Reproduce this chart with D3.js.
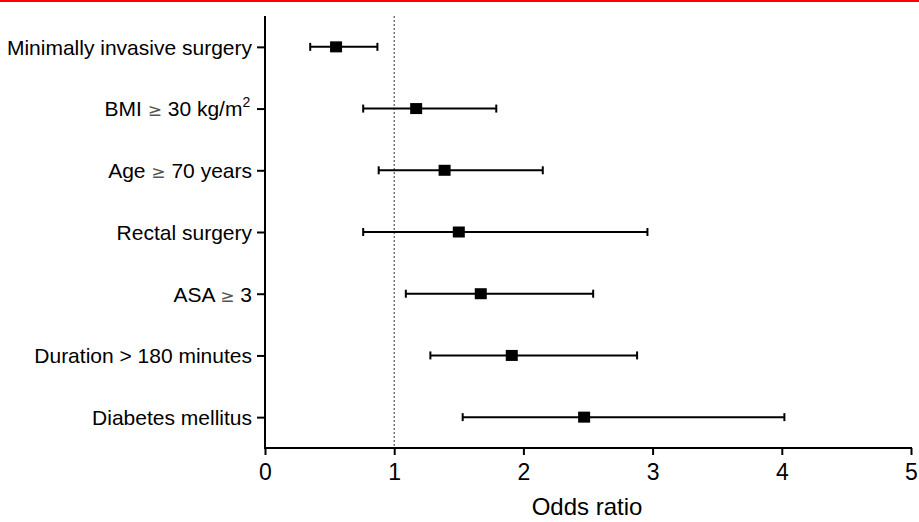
<!DOCTYPE html>
<html>
<head>
<meta charset="utf-8">
<script src="https://cdn.jsdelivr.net/npm/d3@7"></script>
<style>
  body { margin: 0; background: #fff; }
  text { font-family: "Liberation Sans", Arial, sans-serif; fill: #000; }
</style>
</head>
<body>
<script>
// factors (top to bottom)
var factors = ["Minimally invasive surgery", "BMI \u2265 30 kg/m2", "Age \u2265 70 years",
               "Rectal surgery", "ASA \u2265 3", "Duration > 180 minutes", "Diabetes mellitus"];
var oddsRatio = [0.55, 1.17, 1.39, 1.50, 1.67, 1.91, 2.47];
var ciLow     = [0.35, 0.76, 0.88, 0.76, 1.09, 1.28, 1.53];
var ciHigh    = [0.87, 1.79, 2.15, 2.96, 2.54, 2.88, 4.02];
var xTicks    = [0, 1, 2, 3, 4, 5];

var w = 919, h = 522;
var pLeft = 265, pRight = 911, pTop = 16, pBottom = 448;

var svg = d3.select("body").append("svg")
    .attr("width", w)
    .attr("height", h);

// red line across the top
svg.append("rect")
    .attr("x", 0).attr("y", 0)
    .attr("width", w).attr("height", 2)
    .attr("fill", "#ff0000");

var x = d3.scaleLinear().domain([0, 5]).range([pLeft, pRight]);
var y = d3.scalePoint().domain(factors).range([pTop, pBottom]).padding(0.5);

// reference line at OR = 1
svg.append("line")
    .attr("x1", x(1)).attr("x2", x(1))
    .attr("y1", pTop).attr("y2", pBottom)
    .attr("stroke", "#333")
    .attr("stroke-width", 1)
    .attr("stroke-dasharray", "2,2");

// x axis
var xAxis = svg.append("g")
    .attr("transform", "translate(0," + pBottom + ")")
    .call(d3.axisBottom(x).tickValues(xTicks).tickFormat(d3.format("d")).tickSizeOuter(0).tickSize(7).tickPadding(9));
xAxis.select(".domain").attr("stroke-width", 2).attr("d", "M" + (pLeft - 1) + ",0H" + (pRight + 1));
xAxis.selectAll(".tick line").attr("stroke-width", 2);
xAxis.selectAll("text").style("font-size", "23px").attr("font-family", null);

// y axis
var yAxis = svg.append("g")
    .attr("transform", "translate(" + pLeft + ",0)")
    .call(d3.axisLeft(y).tickSizeOuter(0).tickSize(8).tickPadding(5));
yAxis.select(".domain").attr("stroke-width", 2).attr("d", "M0," + pTop + "V" + (pBottom + 1));
yAxis.selectAll(".tick line").attr("stroke-width", 2);
yAxis.selectAll("text")
    .style("font-size", "21px")
    .attr("font-family", null)
    .attr("dy", "0.35em")
    .each(function(d) {
        var t = d3.select(this);
        if (d.indexOf("\u2265") < 0) return;
        var parts = d.split("\u2265");
        t.text(null);
        t.append("tspan").text(parts[0]);
        t.append("tspan").text("\u2265").style("font-family", "DejaVu Sans").style("font-size", "17px").attr("fill", "#555");
        if (parts[1].indexOf("m2") > 0) {
            t.append("tspan").text(parts[1].slice(0, -1));
            t.append("tspan").text("2").style("font-size", "14px").attr("dy", "-0.65em");
            t.append("tspan").text("\u200a").attr("dy", "0.65em");
        } else {
            t.append("tspan").text(parts[1]);
        }
    });

yAxis.selectAll("path, line").attr("stroke", "#000");
xAxis.selectAll("path, line").attr("stroke", "#000");

var rows = factors.map(function(f, i) {
    return { name: f, or: oddsRatio[i], lo: ciLow[i], hi: ciHigh[i] };
});

var g = svg.append("g");

// confidence intervals
g.selectAll(".ci")
    .data(rows)
    .enter()
    .append("line")
    .attr("x1", function(d) { return x(d.lo); })
    .attr("x2", function(d) { return x(d.hi); })
    .attr("y1", function(d) { return y(d.name); })
    .attr("y2", function(d) { return y(d.name); })
    .attr("stroke", "#000")
    .attr("stroke-width", 2);

// caps
["lo", "hi"].forEach(function(k) {
    g.selectAll(".cap-" + k)
        .data(rows)
        .enter()
        .append("line")
        .attr("x1", function(d) { return x(d[k]); })
        .attr("x2", function(d) { return x(d[k]); })
        .attr("y1", function(d) { return y(d.name) - 4; })
        .attr("y2", function(d) { return y(d.name) + 4; })
        .attr("stroke", "#000")
        .attr("stroke-width", 2);
});

// point estimates
g.selectAll(".pt")
    .data(rows)
    .enter()
    .append("rect")
    .attr("x", function(d) { return x(d.or) - 6; })
    .attr("y", function(d) { return y(d.name) - 5.5; })
    .attr("width", 12)
    .attr("height", 11)
    .attr("fill", "#000");

// axis title
svg.append("text")
    .attr("x", 587)
    .attr("y", 515)
    .attr("text-anchor", "middle")
    .style("font-size", "24px")
    .text("Odds ratio");
</script>
</body>
</html>
